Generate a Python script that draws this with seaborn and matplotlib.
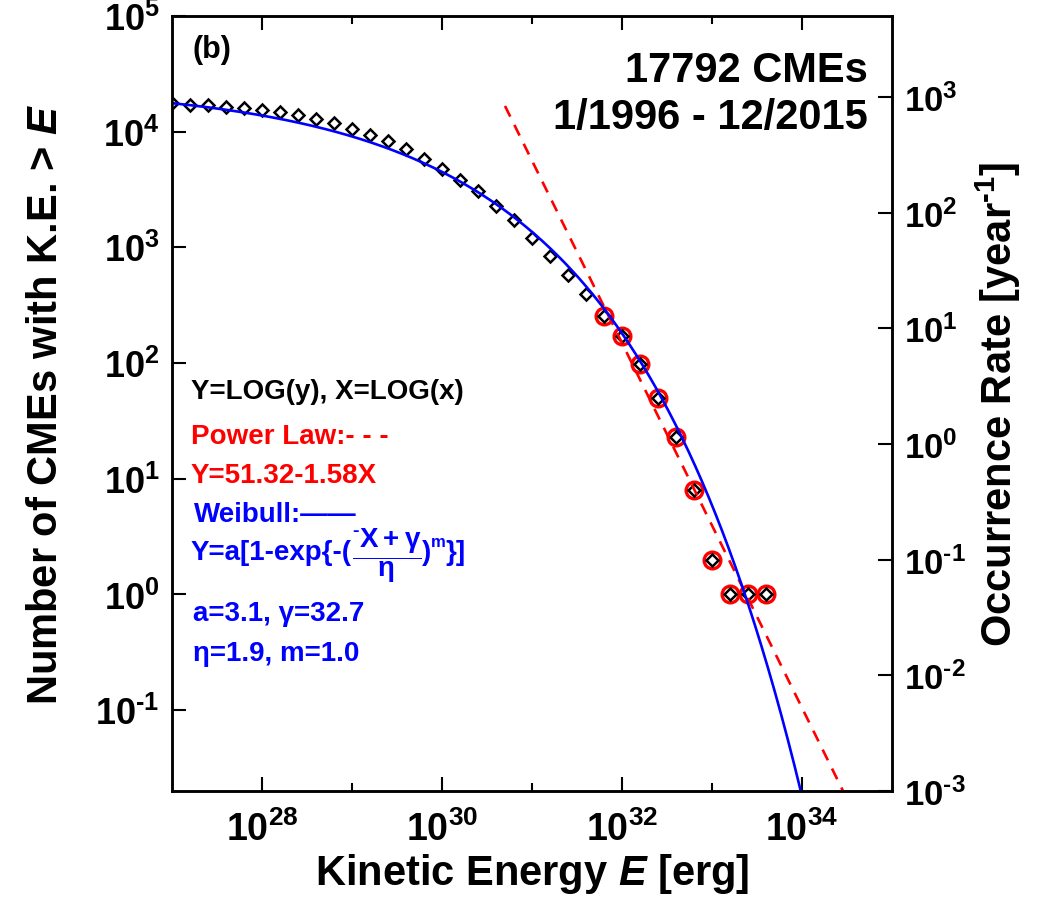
import numpy as np
import pandas as pd
import matplotlib
matplotlib.use("Agg")
import matplotlib.pyplot as plt
import seaborn as sns
from matplotlib.ticker import FixedLocator, FuncFormatter, NullLocator, NullFormatter

# ---------------- data ----------------
log_e_diamond = [27.0, 27.2, 27.4, 27.6, 27.8, 28.0, 28.2, 28.4, 28.6, 28.8,
                 29.0, 29.2, 29.4, 29.6, 29.8, 30.0, 30.2, 30.4, 30.6, 30.8,
                 31.0, 31.2, 31.4, 31.6]
n_diamond = [17792, 17100, 16870, 16440, 16000, 15380, 14790, 14030, 12940, 11890,
             10620, 9290, 8260, 7050, 5850, 4800, 3850, 3060, 2290, 1720,
             1210, 850, 577, 394]
log_e_fit = [31.8, 32.0, 32.2, 32.4, 32.6, 32.8, 33.0, 33.2, 33.4, 33.6]
n_fit = [256, 170, 98, 50, 23, 8, 2, 1, 1, 1]

years = 20.0                       # 1/1996 - 12/2015
pl_intercept, pl_slope = 51.32, -1.5765   # power law on occurrence rate
pl_start = 30.7
wb_a, wb_gamma, wb_eta, wb_m = 3.1, 32.7, 1.9, 1.0   # Weibull on occurrence rate

x_ticks = [28, 30, 32, 34]
x_minor = [29, 31, 33]
y_left_ticks = [-1, 0, 1, 2, 3, 4, 5]
y_right_ticks = [-3, -2, -1, 0, 1, 2, 3]

BLUE = "#0000FF"
RED = "#FF0000"
HY = "\u2010"   # short hyphen used in exponents

# ---------------- style ----------------
sns.set_theme(style="white")
plt.rcParams["font.family"] = ["Liberation Sans", "DejaVu Sans"]
plt.rcParams["font.weight"] = "bold"
plt.rcParams["text.color"] = "black"
plt.rcParams["axes.labelcolor"] = "black"
plt.rcParams["xtick.color"] = "black"
plt.rcParams["ytick.color"] = "black"
plt.rcParams["mathtext.fontset"] = "custom"
plt.rcParams["mathtext.rm"] = "Liberation Sans:bold"
plt.rcParams["mathtext.bf"] = "Liberation Sans:bold"
plt.rcParams["mathtext.sf"] = "Liberation Sans:bold"
plt.rcParams["mathtext.it"] = "Liberation Sans:italic:bold"
plt.rcParams["mathtext.default"] = "bf"

W, H = 1046, 904
fig = plt.figure(figsize=(W / 100, H / 100), dpi=100)
fig.patch.set_facecolor("white")
ax = fig.add_axes([172 / W, 1 - 792 / H, 720 / W, 775 / H])
ax.set_xscale("log")
ax.set_yscale("log")
ax.set_xlim(1e27, 1e35)
ax.set_ylim(years * 1e-3, 1e5)

# ---------------- curves ----------------
xw = np.linspace(27.0, 34.3, 400)
yw = wb_a * (1 - np.exp(-(((-xw + wb_gamma) / wb_eta)) ** wb_m)) + np.log10(years)
df_wb = pd.DataFrame({"E": 10 ** xw, "N": 10 ** yw})
xp = np.linspace(pl_start, 35.0, 100)
yp = pl_intercept + pl_slope * xp + np.log10(years)
df_pl = pd.DataFrame({"E": 10 ** xp, "N": 10 ** yp})

df_d = pd.DataFrame({"E": 10 ** np.array(log_e_diamond + log_e_fit),
                     "N": n_diamond + n_fit})
df_f = pd.DataFrame({"E": 10 ** np.array(log_e_fit), "N": n_fit})

sns.lineplot(data=df_f, x="E", y="N", ax=ax, marker="o", linestyle="none",
             markersize=12, markerfacecolor="none", markeredgecolor=RED,
             markeredgewidth=2.4, zorder=3, sort=False)
sns.lineplot(data=df_d, x="E", y="N", ax=ax, marker="D", linestyle="none",
             markersize=6.6, markerfacecolor="white", markeredgecolor="black",
             markeredgewidth=1.8, zorder=4, sort=False)
sns.lineplot(data=df_pl, x="E", y="N", ax=ax, color=RED, linewidth=1.9,
             zorder=5, sort=False)
ax.lines[-1].set_linestyle((0, (4.5, 3.5)))
sns.lineplot(data=df_wb, x="E", y="N", ax=ax, color=BLUE, linewidth=1.9,
             zorder=6, sort=False)

# ---------------- axes / ticks ----------------
def fmt(v, p):
    k = int(round(np.log10(v)))
    s = str(k).replace("-", HY)
    return "$\\mathbf{10^{%s}}$" % s

ax.xaxis.set_major_locator(FixedLocator([10.0 ** k for k in x_ticks]))
ax.xaxis.set_minor_locator(FixedLocator([10.0 ** k for k in x_minor]))
ax.xaxis.set_major_formatter(FuncFormatter(fmt))
ax.xaxis.set_minor_formatter(NullFormatter())
ax.yaxis.set_major_locator(FixedLocator([10.0 ** k for k in y_left_ticks]))
ax.yaxis.set_minor_locator(NullLocator())
ax.yaxis.set_major_formatter(FuncFormatter(fmt))

ax.tick_params(axis="x", which="major", direction="in", length=10, width=1.5,
               top=True, bottom=True, labelsize=27, pad=14, colors="black")
ax.tick_params(axis="x", which="minor", direction="in", length=6, width=1.5,
               top=True, bottom=True)
ax.tick_params(axis="y", which="major", direction="in", length=10, width=1.5,
               left=True, right=False, labelsize=26, pad=9, colors="black")
for s in ax.spines.values():
    s.set_linewidth(1.8)
    s.set_color("black")

ax2 = ax.twinx()
ax2.set_yscale("log")
ax2.set_ylim(ax.get_ylim()[0] / years, ax.get_ylim()[1] / years)
ax2.yaxis.set_major_locator(FixedLocator([10.0 ** k for k in y_right_ticks]))
ax2.yaxis.set_minor_locator(NullLocator())
ax2.yaxis.set_major_formatter(FuncFormatter(fmt))
ax2.tick_params(axis="y", which="major", direction="in", length=10, width=1.5,
                right=True, labelsize=25, pad=9, colors="black")
for s in ax2.spines.values():
    s.set_linewidth(1.8)
    s.set_color("black")
ax2.grid(False)
ax.grid(False)

ax.set_xlabel("Kinetic Energy $\\mathit{E}$ [erg]", fontsize=30, fontweight="bold", color="black")
ax.xaxis.set_label_coords(0.5, -0.078)
ax.set_ylabel("Number of CMEs with K.E. > $\\mathit{E}$", fontsize=30, fontweight="bold", color="black")
ax.yaxis.set_label_coords(-0.147, 0.5)
ax2.set_ylabel("Occurrence Rate [year$^{\\mathbf{" + HY + "1}}$]", fontsize=30,
               fontweight="bold", color="black")
ax2.yaxis.set_label_coords(1.114, 0.5)

# ---------------- annotations ----------------
def fx(px):
    return px / W

def fy(py):
    return 1 - py / H

fig.text(fx(193), fy(58), "(b)", fontsize=22, fontweight="bold", color="black", va="baseline")
fig.text(fx(868), fy(82), "17792 CMEs", fontsize=30, fontweight="bold", color="black", ha="right", va="baseline")
fig.text(fx(868), fy(129), "1/1996 - 12/2015", fontsize=30, fontweight="bold", color="black", ha="right", va="baseline")

fs = 20
fig.text(fx(191), fy(399), "Y=LOG(y), X=LOG(x)", fontsize=fs, fontweight="bold", color="black", va="baseline")
fig.text(fx(191), fy(444), "Power Law:- - -", fontsize=fs, fontweight="bold", color=RED, va="baseline")
fig.text(fx(191), fy(483), "Y=51.32-1.58X", fontsize=fs, fontweight="bold", color=RED, va="baseline")
fig.text(fx(194), fy(522), "Weibull:\u2014\u2014", fontsize=fs, fontweight="bold", color=BLUE, va="baseline")
t1 = fig.text(fx(191), fy(560), "Y=a[1-exp{-(", fontsize=fs, fontweight="bold", color=BLUE, va="baseline")
t2 = ax.annotate("$\\dfrac{{}^{" + HY + "}X+\\gamma}{\\eta}$", xy=(1, 0.40), xycoords=t1,
                 fontsize=fs, color=BLUE, va="center", ha="left")
t3 = ax.annotate(")", xy=(1, 0), xycoords=(t2, t1), fontsize=fs, fontweight="bold",
                 color=BLUE, va="bottom", ha="left")
t4 = ax.annotate("m", xy=(1, 0.62), xycoords=(t3, t1), fontsize=12, fontweight="bold",
                 color=BLUE, va="bottom", ha="left")
t5 = ax.annotate("}]", xy=(1, 0), xycoords=(t4, t1), fontsize=fs, fontweight="bold",
                 color=BLUE, va="bottom", ha="left")
fig.text(fx(193), fy(621), "a=3.1, \u03b3=32.7", fontsize=fs, fontweight="bold", color=BLUE, va="baseline")
fig.text(fx(193), fy(661), "\u03b7=1.9, m=1.0", fontsize=fs, fontweight="bold", color=BLUE, va="baseline")

fig.savefig("out.png", dpi=100, facecolor="white")
